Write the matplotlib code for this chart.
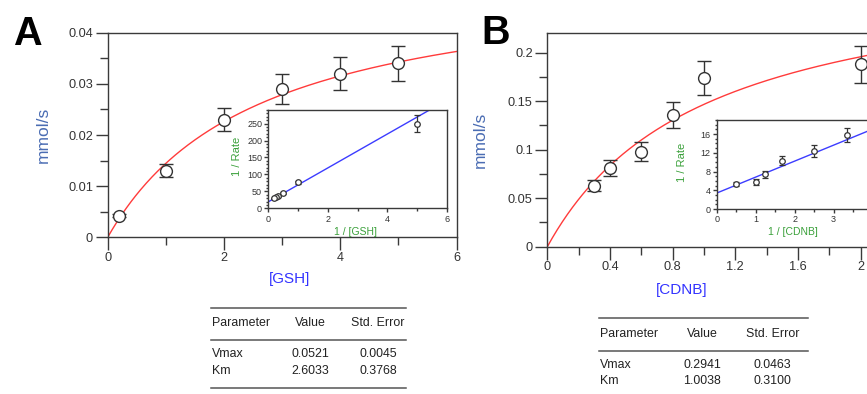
import numpy as np
import matplotlib
matplotlib.use('Agg')
from matplotlib import pyplot as plt
from matplotlib.ticker import MultipleLocator
from matplotlib.lines import Line2D

plt.rcParams['font.family'] = ['Liberation Sans', 'DejaVu Sans']

# ---- panel A : GSH
gshConc = [0.2, 1, 2, 3, 4, 5]
gshRate = [0.0042, 0.013, 0.023, 0.029, 0.032, 0.034]
gshErr = [0.0003, 0.0013, 0.0023, 0.003, 0.0032, 0.0034]
gshInvConc = [5, 1, 0.5, 0.333, 0.25, 0.2]
gshInvRate = [250, 77, 44, 35, 32, 29]
gshInvErr = [24, 5, 3, 2, 2, 2]
gshVmax, gshKm = 0.0521, 2.6033
gshTable = [['Vmax', '0.0521', '0.0045'], ['Km', '2.6033', '0.3768']]

# ---- panel B : CDNB
cdnbConc = [0.3, 0.4, 0.6, 0.8, 1.0, 2.0]
cdnbRate = [0.063, 0.081, 0.098, 0.136, 0.174, 0.188]
cdnbErr = [0.006, 0.008, 0.010, 0.0135, 0.0175, 0.019]
cdnbInvConc = [0.5, 1, 1.25, 1.667, 2.5, 3.333]
cdnbInvRate = [5.4, 5.8, 7.4, 10.3, 12.4, 15.9]
cdnbInvErr = [0.4, 0.6, 0.8, 1.0, 1.2, 1.5]
cdnbVmax, cdnbKm = 0.2941, 1.0038
cdnbTable = [['Vmax', '0.2941', '0.0463'], ['Km', '1.0038', '0.3100']]

tableHeader = ['Parameter', 'Value', 'Std. Error']

spineColor = '#3a3a3a'
textColor = '#333333'


def styleAxes(ax, size, major, minor, pad):
    for s in ax.spines.values():
        s.set_color(spineColor)
        s.set_linewidth(1.0)
    ax.tick_params(which='both', direction='out', colors=spineColor, labelcolor=textColor,
                   labelsize=size, top=False, right=False, pad=pad)
    ax.tick_params(which='major', length=major, width=1.0)
    ax.tick_params(which='minor', length=minor, width=1.0)


def mainPanel(rect, conc, rate, err, vmax, km, xlim, ylim, xstep, ystep, xlabel, xlabelPos, ylabelPos):
    ax = fig.add_axes(rect)
    xs = np.linspace(0, xlim[1], 300)
    ax.plot(xs, vmax * xs / (km + xs), color='#ff3b3b', linewidth=1.0, zorder=2)
    ax.errorbar(conc, rate, yerr=err, fmt='o', markersize=8.5, markerfacecolor='white',
                markeredgecolor='#333333', markeredgewidth=1.0, ecolor='#333333',
                elinewidth=1.0, capsize=5, capthick=1.0, zorder=3)
    ax.set_xlim(xlim)
    ax.set_ylim(ylim)
    ax.xaxis.set_major_locator(MultipleLocator(xstep))
    ax.xaxis.set_minor_locator(MultipleLocator(xstep / 2))
    ax.yaxis.set_major_locator(MultipleLocator(ystep))
    ax.yaxis.set_minor_locator(MultipleLocator(ystep / 2))
    ax.yaxis.set_major_formatter(lambda v, p: '0' if v == 0 else f'{v:g}')
    ax.xaxis.set_major_formatter(lambda v, p: '0' if v == 0 else f'{v:g}')
    styleAxes(ax, 9.2, 9, 5.5, 1.5)
    ax.set_ylabel('mmol/s', color='#4a6cb3', fontsize=12.5)
    ax.yaxis.set_label_coords(*ylabelPos)
    ax.set_xlabel(xlabel, color='#3333ff', fontsize=11)
    ax.xaxis.set_label_coords(*xlabelPos)
    return ax


def insetPanel(rect, invConc, invRate, invErr, vmax, km, xlim, ylim, ystep, yminor, ylabelPos, xlabel, xlabelPos):
    ax = fig.add_axes(rect)
    xs = np.linspace(0, xlim[1], 50)
    ax.plot(xs, km / vmax * xs + 1 / vmax, color='#3c3cff', linewidth=1.0, zorder=2)
    ax.errorbar(invConc, invRate, yerr=invErr, fmt='o', markersize=4, markerfacecolor='white',
                markeredgecolor='#333333', markeredgewidth=0.9, ecolor='#333333',
                elinewidth=0.9, capsize=2, capthick=0.9, zorder=3)
    ax.set_xlim(xlim)
    ax.set_ylim(ylim)
    ax.xaxis.set_major_locator(MultipleLocator(xlim[1] > 5 and 2 or 1))
    ax.xaxis.set_minor_locator(MultipleLocator(xlim[1] > 5 and 1 or 0.5))
    ax.yaxis.set_major_locator(MultipleLocator(ystep))
    ax.yaxis.set_minor_locator(MultipleLocator(yminor))
    styleAxes(ax, 6.5, 3, 1.8, 1.5)
    ax.set_ylabel('1 / Rate', color='#3aa03a', fontsize=8)
    ax.yaxis.set_label_coords(*ylabelPos)
    ax.set_xlabel(xlabel, color='#3aa03a', fontsize=7.5)
    ax.xaxis.set_label_coords(*xlabelPos)
    return ax


def paramTable(x0, x1, yTop, colX, rows):
    # rows laid out in figure pixels, top-down
    W, H = 867.0, 394.0
    for y in [yTop, yTop + 32.5, yTop + 80]:
        fig.add_artist(Line2D([x0 / W, x1 / W], [1 - y / H, 1 - y / H], color='#555555',
                              linewidth=1.1, transform=fig.transFigure))
    aligns = ['left', 'center', 'center']
    for j in range(3):
        fig.text(colX[j] / W, 1 - (yTop + 15.5) / H, tableHeader[j], fontsize=8.9, color='#222222',
                 ha=aligns[j], va='center')
    for i, row in enumerate(rows):
        y = 1 - (yTop + 46.5 + i * 16.5) / H
        for j in range(3):
            fig.text(colX[j] / W, y, row[j], fontsize=8.9, color='#222222', ha=aligns[j], va='center')


fig = plt.figure(figsize=(8.67, 3.94), dpi=100)

mainPanel([0.1242, 0.3977, 0.4025, 0.5193], gshConc, gshRate, gshErr, gshVmax, gshKm,
          (0, 6), (0, 0.04), 2, 0.01, '[GSH]', (0.52, -0.17), (-0.162, 0.5))
insetPanel([0.3095, 0.4713, 0.2058, 0.2495], gshInvConc, gshInvRate, gshInvErr, gshVmax, gshKm,
           (0, 6), (0, 290), 50, 10, (-0.15, 0.525), '1 / [GSH]', (0.486, -0.19))

mainPanel([0.6313, 0.3739, 0.4337, 0.5416], cdnbConc, cdnbRate, cdnbErr, cdnbVmax, cdnbKm,
          (0, 2.4), (0, 0.22), 0.4, 0.05, '[CDNB]', (0.358, -0.17), (-0.158, 0.5))
insetPanel([0.8266, 0.4695, 0.2024, 0.2259], cdnbInvConc, cdnbInvRate, cdnbInvErr, cdnbVmax, cdnbKm,
           (0, 4.5), (0, 19), 4, 1, (-0.17, 0.52), '1 / [CDNB]', (0.435, -0.2))

fig.text(27.5 / 867, 1 - 34 / 394, 'A', fontsize=28.5, fontweight='bold', ha='center', va='center')
fig.text(496 / 867, 1 - 33.5 / 394, 'B', fontsize=28.5, fontweight='bold', ha='center', va='center')

paramTable(210.7, 405.7, 307.7, [211.7, 310.7, 378], gshTable)
paramTable(599, 808, 318.3, [600, 702.3, 772.7], cdnbTable)

plt.savefig('out.png', dpi=100)
